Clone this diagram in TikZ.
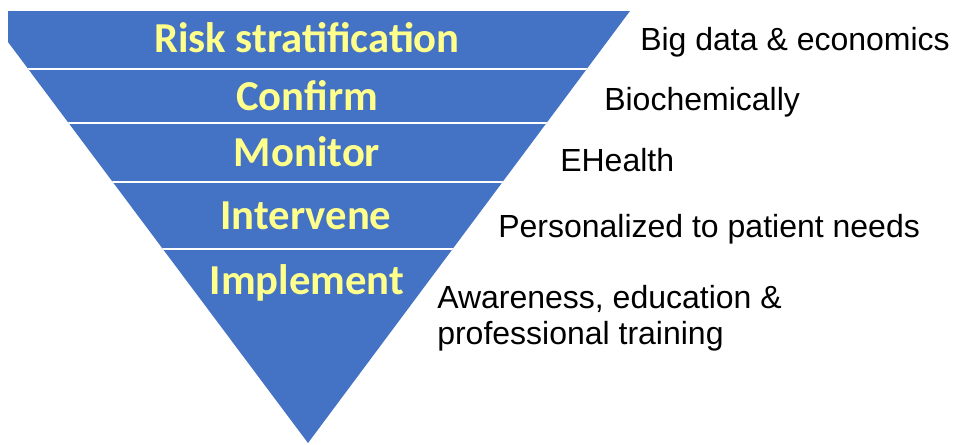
\documentclass[tikz,border=0pt]{standalone}
\usepackage{fontspec}
\setmainfont{Liberation Sans}
\newfontfamily\bandfont{Carlito}
\usetikzlibrary{calc}
\usetikzlibrary{positioning}

\definecolor{funnelblue}{HTML}{4472C4}
\definecolor{labelyellow}{HTML}{FFFF8C}

\tikzset{
    band/.style     = {font=\bandfont\bfseries\fontsize{32}{34}\selectfont, text=labelyellow, inner sep=0pt},
    side/.style     = {font=\fontsize{24}{27}\selectfont, text=black, inner sep=0pt, anchor=west, align=left},
    divider/.style  = {white, line width=1.3pt}
}

\begin{document}
\begin{tikzpicture}[x=0.75pt, y=-0.75pt]
            \useasboundingbox                   (0,0) rectangle (953,444);     % page

            \coordinate (tl)  at (8,11);                                        % top left
            \coordinate (tr)  at (630,11);                                      % top right
            \coordinate (tip) at (308,443);                                     % apex
            \coordinate (cut) at (8,42);                                        % clipped left edge

            \fill       [funnelblue]            (tl) -- (tr) -- (tip) -- (cut) -- cycle;   % funnel

            \begin{scope}
                \clip                           (tl) -- (tr) -- (tip) -- (cut) -- cycle;
                \draw   [divider]               (0,69)  -- (953,69);           % line 1
                \draw   [divider]               (0,123) -- (953,123);          % line 2
                \draw   [divider]               (0,182) -- (953,182);          % line 3
                \draw   [divider]               (0,249) -- (953,249);          % line 4
            \end{scope}

            \node       [band] (risk)      at (307,38)  {Risk stratification};
            \node       [band] (confirm)   at (307,96)  {Confirm};
            \node       [band] (monitor)   at (307,152) {Monitor};
            \node       [band] (intervene) at (306,216) {Intervene};
            \node       [band] (implement) at (307,283) {Implement};

            \node       [side] (bigdata)   at (640,42)  {Big data \& economics};
            \node       [side] (biochem)   at (604,102) {Biochemically};
            \node       [side] (ehealth)   at (560,160) {EHealth};
            \node       [side] (personal)  at (498,229) {Personalized to patient needs};
            \node       [side] (aware)     at (437,318) {Awareness, education \&\\professional training};
        \end{tikzpicture}
\end{document}
